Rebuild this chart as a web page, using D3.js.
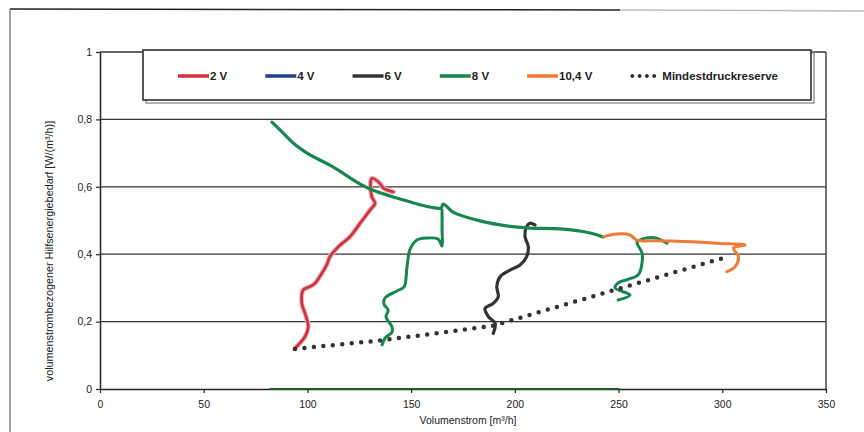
<!DOCTYPE html>
<html>
<head>
<meta charset="utf-8">
<script src="https://cdn.jsdelivr.net/npm/d3@7"></script>
<style>
	body { margin: 0; background: #fff; }
	svg { font-family: "Liberation Sans", Arial, sans-serif; }
</style>
</head>
<body>
<svg class="mainsvg" width="864" height="432"></svg>
<script>
// Messwerte [Volumenstrom m³/h, W/(m³/h)]
var red2V = [[94.0,0.121],[98.8,0.155],[100.4,0.185],[98.8,0.225],[97.3,0.254],[98.0,0.294],
	[101.3,0.304],[103.7,0.314],[106.9,0.343],[109.3,0.368],[110.9,0.393],[114.9,0.422],
	[120.5,0.452],[125.4,0.492],[130.2,0.531],[132.6,0.551],[131.0,0.571],[131.0,0.625],
	[135.0,0.610],[136.6,0.596],[141.4,0.585]];
var blue4V = [];
var black6V = [[189.6,0.165],[190.5,0.195],[187.2,0.215],[185.6,0.239],[189.6,0.254],[192.0,0.274],
	[191.3,0.304],[192.9,0.333],[197.7,0.353],[202.5,0.368],[205.7,0.393],[206.5,0.422],
	[204.9,0.452],[205.7,0.482],[207.3,0.492],[209.7,0.487]];
var green8V = [[82.9,0.792],[88.2,0.760],[93.1,0.730],[99.8,0.700],[112.3,0.659],[125.4,0.608],
	[133.6,0.585],[141.3,0.570],[159.1,0.540],[164.4,0.537],[165.4,0.549],[170.2,0.525],
	[181.8,0.501],[192.9,0.487],[205.9,0.478],[221.8,0.475],[236.3,0.463],[242.5,0.451]];
var green8V_left = [[164.9,0.531],[164.9,0.472],[164.9,0.424],[163.0,0.445],[157.7,0.448],
	[152.8,0.442],[149.5,0.415],[148.0,0.362],[146.6,0.303],[143.2,0.291],[137.4,0.270],
	[136.9,0.252],[138.9,0.234],[137.9,0.214],[140.8,0.184],[140.8,0.169],[137.4,0.151],[136.0,0.131]];
var green8V_right = [[273.4,0.433],[267.5,0.449],[263.3,0.448],[258.9,0.436],[261.3,0.404],
	[261.3,0.374],[259.4,0.338],[249.8,0.315],[248.3,0.300],[255.5,0.279],[249.8,0.264]];
var green8V_zero = [[82,0],[250,0]];
var orange10V = [[242.7,0.452],[249.1,0.460],[255.5,0.457],[258.8,0.442],[270.0,0.440],
	[286.1,0.437],[298.9,0.432],[311.0,0.427],[305.4,0.418],[307.8,0.393],[306.2,0.363],[302.2,0.348]];
var reserve = [[94.0,0.119],[136.5,0.145],[189.0,0.187],[302.3,0.392]];

var xTicks = [0,50,100,150,200,250,300,350];
var yTicks = [0,0.2,0.4,0.6,0.8,1];
var legendNames = ['2 V','4 V','6 V','8 V','10,4 V','Mindestdruckreserve'];
var legendColors = ['#cc3440','#1f3f95','#333333','#17864f','#f27a36','#333333'];

var svg = d3.select('.mainsvg');

// Rahmen (gescannte Seite)
svg.append('line').attr('x1',10).attr('y1',9).attr('x2',620).attr('y2',10)
	.attr('stroke','#222').attr('stroke-width',1.5)
svg.append('line').attr('x1',620).attr('y1',10).attr('x2',864).attr('y2',11)
	.attr('stroke','#bbb').attr('stroke-width',1.5)
svg.append('line').attr('x1',10).attr('y1',9).attr('x2',10).attr('y2',432)
	.attr('stroke','#888').attr('stroke-width',1.5)

var x = d3.scaleLinear().domain([0,350]).range([100,826]);
var y = d3.scaleLinear().domain([0,1]).range([389,52]);

// Gitterlinien
svg.append('g')
	.selectAll('line')
	.data(yTicks.filter(function(d){ return d > 0; }))
	.join('line')
	.attr('x1', x(0)).attr('x2', x(350))
	.attr('y1', function(d){ return y(d); }).attr('y2', function(d){ return y(d); })
	.attr('stroke','#333').attr('stroke-width',1.3)

svg.append('line').attr('x1',x(350)).attr('x2',x(350)).attr('y1',y(1)).attr('y2',y(0))
	.attr('stroke','#444').attr('stroke-width',1.5)

var xAxis = svg.append('g')
	.attr('transform','translate(0,'+y(0)+')')
	.call(d3.axisBottom(x).tickValues(xTicks).tickSize(4).tickSizeOuter(0).tickFormat(d3.format('d')))
var yAxis = svg.append('g')
	.attr('transform','translate('+x(0)+',0)')
	.call(d3.axisLeft(y).tickValues(yTicks).tickSize(4).tickSizeOuter(0)
		.tickFormat(function(d){ return d === 0 || d === 1 ? String(d) : String(d).replace('.',','); }))

svg.selectAll('.domain').attr('stroke','#222').attr('stroke-width',1.5)
svg.selectAll('.tick line').attr('stroke','#222').attr('stroke-width',1.2)
svg.selectAll('.tick text').attr('fill','#222').attr('font-size','10.5px')
	.style('font-family','"Liberation Sans", Arial, sans-serif')
xAxis.selectAll('.tick text').attr('dy','1.1em')
yAxis.selectAll('.tick text').attr('x',-8)

svg.append('text')
	.attr('x', 468).attr('y', 424)
	.attr('fill','#222').attr('font-size','10.5px')
	.style('text-anchor','middle')
	.text('Volumenstrom [m³/h]')

svg.append('text')
	.attr('transform','translate(53,251) rotate(-90)')
	.attr('fill','#222').attr('font-size','10.8px')
	.style('text-anchor','middle')
	.text('volumenstrombezogener Hilfsenergiebedarf [W/(m³/h)]')

// Kurven
var line = d3.line()
	.x(function(d){ return x(d[0]); })
	.y(function(d){ return y(d[1]); })
	.curve(d3.curveCatmullRom.alpha(0.5))

function drawCurve(data, color, width) {
	if (!data.length) return;
	svg.append('path')
		.datum(data)
		.attr('d', line)
		.attr('fill','none')
		.attr('stroke', color)
		.attr('stroke-width', width)
		.attr('stroke-linejoin','round')
		.attr('stroke-linecap','round')
}

drawCurve(green8V_zero, '#1d5a2e', 1.8)
drawCurve(red2V, '#f2b8c0', 5)
drawCurve(red2V, legendColors[0], 2.8)
drawCurve(blue4V, legendColors[1], 3)
drawCurve(black6V, legendColors[2], 3.2)
drawCurve(green8V, legendColors[3], 3.2)
drawCurve(green8V_left, legendColors[3], 3)
drawCurve(green8V_right, legendColors[3], 3)
drawCurve(orange10V, legendColors[4], 3)

svg.append('path')
	.datum(reserve)
	.attr('d', d3.line().x(function(d){ return x(d[0]); }).y(function(d){ return y(d[1]); }))
	.attr('fill','none')
	.attr('stroke','#333')
	.attr('stroke-width',4.5)
	.attr('stroke-linecap','round')
	.attr('stroke-dasharray','0,9.5')

// Legende
svg.append('rect')
	.attr('x',146).attr('y',53).attr('width',668).attr('height',50)
	.attr('fill','none').attr('stroke','#999').attr('stroke-width',1.5)
svg.append('rect')
	.attr('x',143).attr('y',50).attr('width',668).attr('height',50)
	.attr('fill','#fff').attr('stroke','#222').attr('stroke-width',1.5)

var lx = 178;
legendNames.forEach(function(name, i) {
	var g = svg.append('g').attr('transform','translate('+lx+',76)');
	if (i < legendNames.length - 1) {
		g.append('line').attr('x1',0).attr('x2',31).attr('y1',0).attr('y2',0)
			.attr('stroke',legendColors[i]).attr('stroke-width',3.5)
	} else {
		g.append('line').attr('x1',2).attr('x2',24).attr('y1',0).attr('y2',0)
			.attr('stroke',legendColors[i]).attr('stroke-width',4)
			.attr('stroke-linecap','round').attr('stroke-dasharray','0,7.3')
	}
	var t = g.append('text')
		.attr('x',32).attr('y',4)
		.attr('fill','#222').attr('font-size','11.5px').attr('font-weight','600')
		.text(name)
	lx += 32 + t.node().getComputedTextLength() + 38;
});
</script>
</body>
</html>
